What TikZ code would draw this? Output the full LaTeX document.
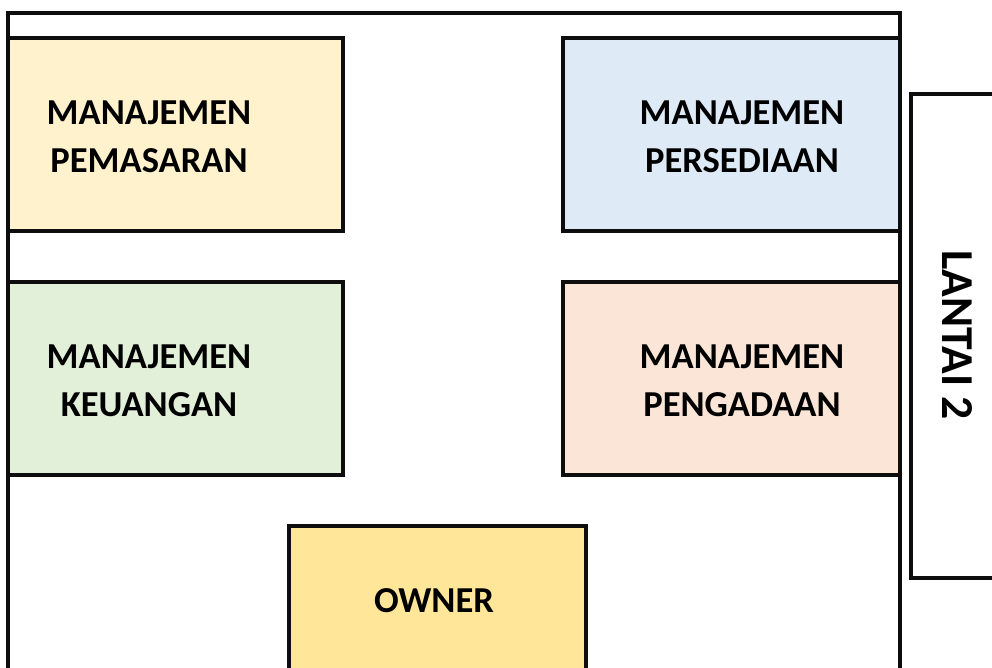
\documentclass[tikz,border=0pt]{standalone}
\usepackage{fontspec}
\setmainfont{Carlito}
\usetikzlibrary{positioning}
\definecolor{fillPemasaran}{HTML}{FFF2CC}
\definecolor{fillPersediaan}{HTML}{DEEBF7}
\definecolor{fillKeuangan}{HTML}{E2F0D9}
\definecolor{fillPengadaan}{HTML}{FBE5D6}
\definecolor{fillOwner}{HTML}{FFE699}
\definecolor{wall}{HTML}{0D0D0D}

\begin{document}
\begin{tikzpicture}[x=0.02cm,y=-0.02cm,line join=miter,
 room/.style={draw=wall,line width=2.6pt*0.7},
 roomname/.style={align=center,font=\fontsize{20.8}{27.3}\selectfont\bfseries,text=black,inner sep=0pt}]
\useasboundingbox (0,0) rectangle (992,668);
% outer wall of the floor
\draw[wall,line width=1.9pt] (8,668)--(8,13)--(900,13)--(900,668);
% rooms
\draw[room,fill=fillPemasaran] (8,38) rectangle (343,231);
\draw[room,fill=fillPersediaan] (563,38) rectangle (900,231);
\draw[room,fill=fillKeuangan] (8,282) rectangle (343,475);
\draw[room,fill=fillPengadaan] (563,282) rectangle (900,475);
\draw[room,fill=fillOwner] (289,526) rectangle (586,680);
\node[roomname] (pemasaran) at (149,137) {MANAJEMEN\\PEMASARAN};
\node[roomname] (persediaan) at (742,137) {MANAJEMEN\\PERSEDIAAN};
\node[roomname] (keuangan) at (149,381) {MANAJEMEN\\KEUANGAN};
\node[roomname] (pengadaan) at (742,381) {MANAJEMEN\\PENGADAAN};
\node[roomname] (owner) at (434,601) {OWNER};
% stairs to the second floor
\draw[wall,line width=2.6pt,fill=white] (1000,94)--(911,94)--(911,578)--(1000,578);
\node[roomname,font=\fontsize{26}{30}\selectfont\bfseries,rotate=-90] (lantai) at (957,335) {LANTAI 2};
\end{tikzpicture}
\end{document}
